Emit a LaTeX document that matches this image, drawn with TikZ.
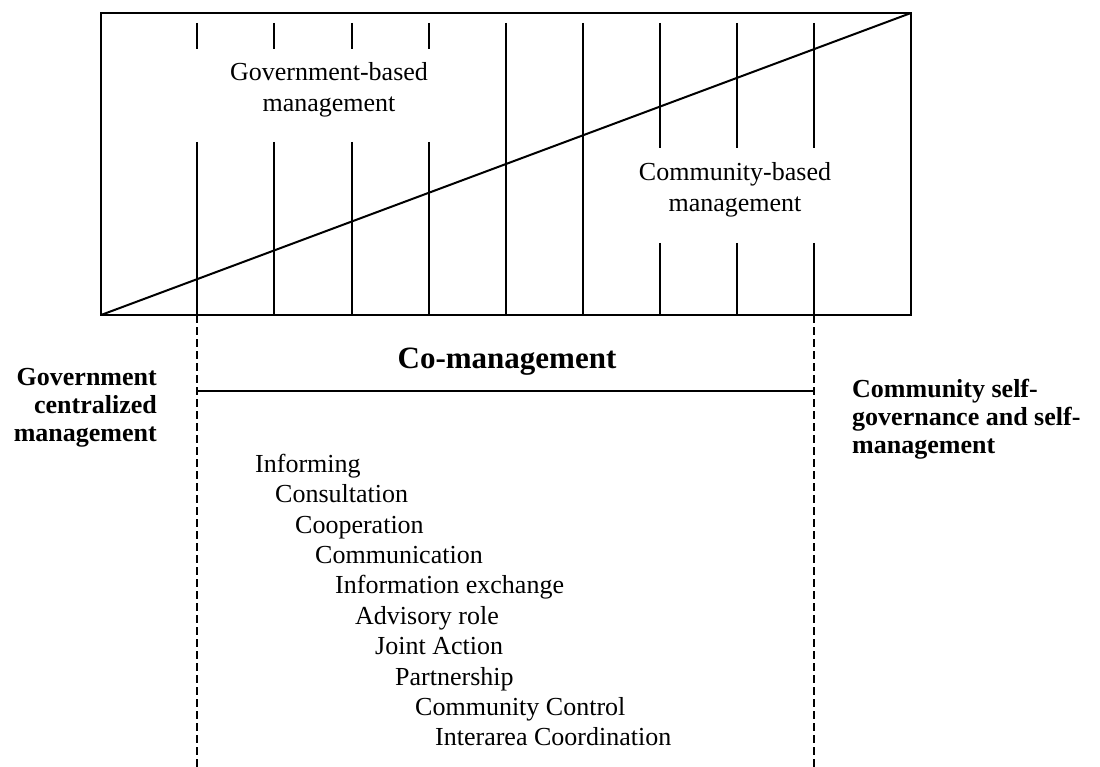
\documentclass[tikz,border=0pt]{standalone}
\usepackage{fontspec}
\setmainfont{Liberation Serif}
\usetikzlibrary{positioning}
\tikzset{
      frame/.style={line width=2pt},
      bar/.style={line width=1.5pt},
      split/.style={line width=1.3pt,dash pattern=on 8pt off 4pt},
      zone/.style={font=\fontsize{26}{31}\selectfont,align=center,inner sep=0pt},
      pole/.style={font=\fontsize{26}{28}\selectfont\bfseries,inner sep=0pt},
      rung/.style={font=\fontsize{26}{30}\selectfont,inner sep=0pt,text height=22pt,text depth=8pt}
    }

\begin{document}
\begin{tikzpicture}[x=1pt,y=-1pt]
\useasboundingbox (0,0) rectangle (1100,767);
\coordinate (sw) at (101,315);
\coordinate (ne) at (911,13);
\draw[frame] (sw) rectangle (ne);
\draw[frame] (sw) -- (ne);
% bars, government side
\foreach \x in {197,274,352,429}{
  \draw[bar] (\x,23) -- (\x,49);
  \draw[bar] (\x,142) -- (\x,315);
}
\foreach \x in {506,583}
  \draw[bar] (\x,23) -- (\x,315);
% bars, community side
\foreach \x in {660,737,814}{
  \draw[bar] (\x,23) -- (\x,148);
  \draw[bar] (\x,243) -- (\x,315);
}
\node[zone] (gbm) at (329,90) {Government-based\\management};
\node[zone] (cbm) at (735,190) {Community-based\\management};
% co-management span
\coordinate (lt) at (197,315);
\coordinate (rt) at (814,315);
\coordinate (lb) at (197,767);
\coordinate (rb) at (814,767);
\coordinate (lm) at (197,391);
\coordinate (rm) at (814,391);
\draw[split] (lt) -- (lb);
\draw[split] (rt) -- (rb);
\draw[bar] (lm) -- (rm);
\node[font=\fontsize{31}{36}\selectfont\bfseries,inner sep=0pt] (co) at (507,362) {Co-management};
\node[pole,align=right,anchor=east] (gcm) at (157,408) {Government\\centralized\\management};
\node[pole,align=left,anchor=west] (csg) at (852,419) {Community self-\\governance and self-\\management};
% ladder
\coordinate (s0) at (235,450);
\foreach \t[count=\i from 0,evaluate=\i as\j using int(\i+1)] in {
  Informing,
  Consultation,
  Cooperation,
  Communication,
  Information exchange,
  Advisory role,
  Joint Action,
  Partnership,
  Community Control,
  Interarea Coordination
}
\node at(s\i.south west)[rung,anchor=north west,xshift=20pt](s\j){\t};
\end{tikzpicture}
\end{document}
